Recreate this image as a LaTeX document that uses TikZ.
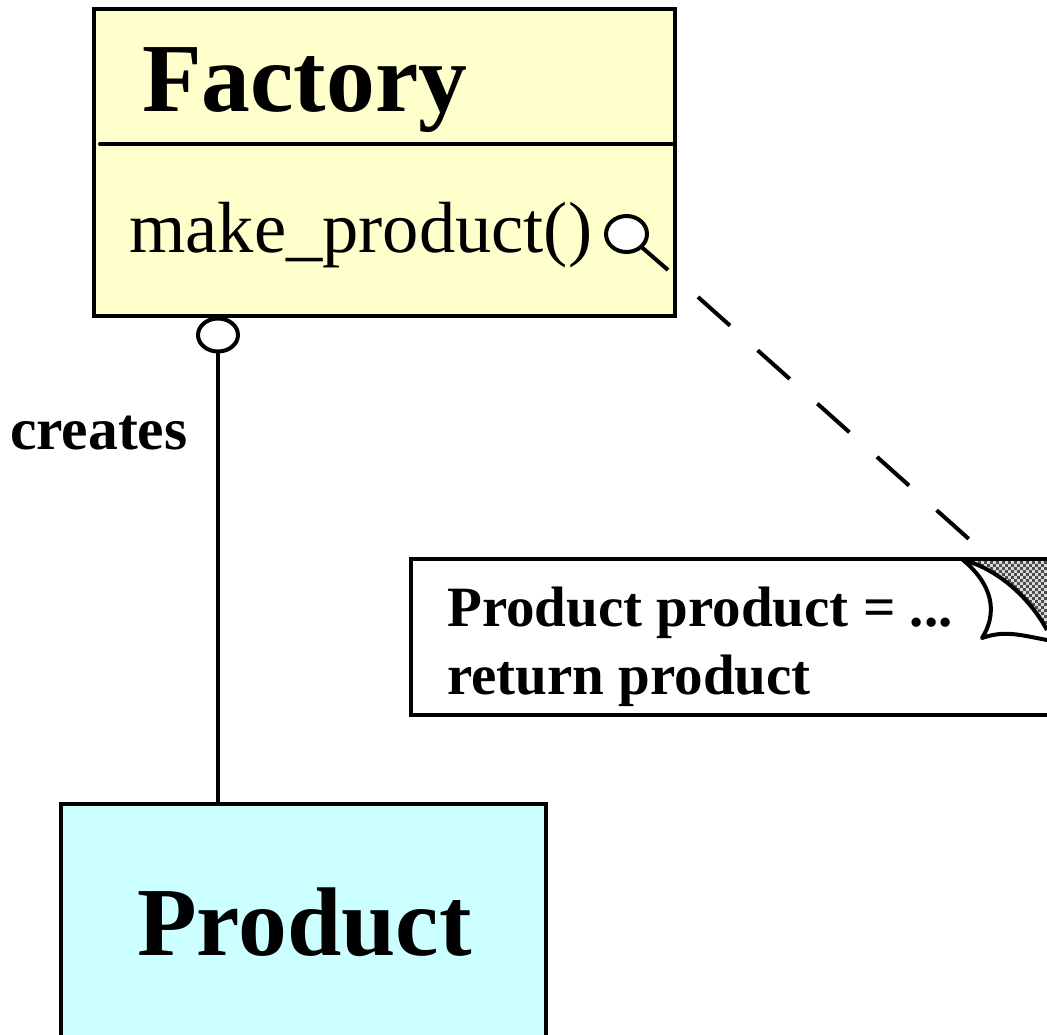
\documentclass[tikz,border=0pt]{standalone}
\usepackage{fontspec}
\usetikzlibrary{shapes.geometric}
\setmainfont{Liberation Serif}
\definecolor{facyellow}{HTML}{FFFFCC}
\definecolor{prodcyan}{HTML}{CCFFFF}
\tikzset{
  outline/.style={draw=black,line width=4pt},
  thinline/.style={draw=black,line width=4pt},
  label/.style={inner sep=0pt,anchor=base west,text=black},
  big/.style={label,font=\bfseries\fontsize{97.6}{98}\selectfont},
  method/.style={label,font=\fontsize{72.5}{72.5}\selectfont},
  small/.style={label,font=\bfseries\fontsize{59.5}{60}\selectfont},
  notetext/.style={label,font=\bfseries\fontsize{57}{57}\selectfont},
}
\begin{document}
\begin{tikzpicture}[x=1pt,y=-1pt]
\useasboundingbox (0,0) rectangle (1047,1034);
% Factory box
\node[outline,fill=facyellow,rectangle,minimum width=581pt,minimum height=307pt,inner sep=0pt,outer sep=0pt] (factory) at (384,162) {};
\draw[thinline,line cap=round] (100,144) -- (672,144);
\node[big] (factorytext) at (142,111) {Factory};
\node[method] (maketext) at (129,252) {make\_product()};
% Magnifier
\node[ellipse,draw=black,line width=4pt,fill=white,minimum width=41pt,minimum height=36pt,inner sep=0pt,outer sep=0pt] (lens) at (626.5,234) {};
\coordinate (handle) at (668,270);
\draw[thinline] (lens) -- (handle);
% Association
\node[ellipse,draw=black,line width=4pt,fill=white,minimum width=40pt,minimum height=33pt,inner sep=0pt,outer sep=0pt] (assoc) at (218,335) {};
\coordinate (prodtop) at (218,804);
\draw[thinline] (assoc) -- (prodtop);
\node[small] (creates) at (10,449) {creates};
% Product box
\fill[prodcyan] (61,1040) rectangle (546,804);
\draw[outline] (61,1040) -- (61,804) -- (546,804) -- (546,1040);
\node[big] (producttext) at (137,955) {Product};
% Note
\fill[white] (411,559) rectangle (1047,715);
\begin{scope}
  \clip (963,560) .. controls (990,566) and (1025,590) .. (1047,630) -- (1047,560) -- cycle;
  \foreach \i in {0,...,29}{
    \foreach \j in {0,...,25}{
      \pgfmathparse{int(mod(\i+\j,2))}
      \ifnum\pgfmathresult=0
        \fill[black!15] (960+3*\i,558+3*\j) rectangle ++(3,3);
      \else
        \fill[black!70] (960+3*\i,558+3*\j) rectangle ++(3,3);
      \fi
    }
  }
\end{scope}
\draw[outline] (1047,559) -- (411,559) -- (411,715) -- (1047,715);
\draw[thinline,line join=round] (963,560) .. controls (995,568) and (1028,595) .. (1047,630);
\draw[thinline,line join=round,line cap=round] (963,560) .. controls (985,578) and (1002,606) .. (982,638) .. controls (1005,630) and (1020,635) .. (1047,640);
\coordinate (noteanchor) at (970,540);
\coordinate (dashstart) at (698,297);
\draw[draw=black,line width=4pt,dash pattern=on 43pt off 37pt] (dashstart) -- (noteanchor);
\node[notetext] (line1) at (447,626) {Product product = ...};
\node[notetext] (line2) at (447,694) {return product};
\end{tikzpicture}
\end{document}
